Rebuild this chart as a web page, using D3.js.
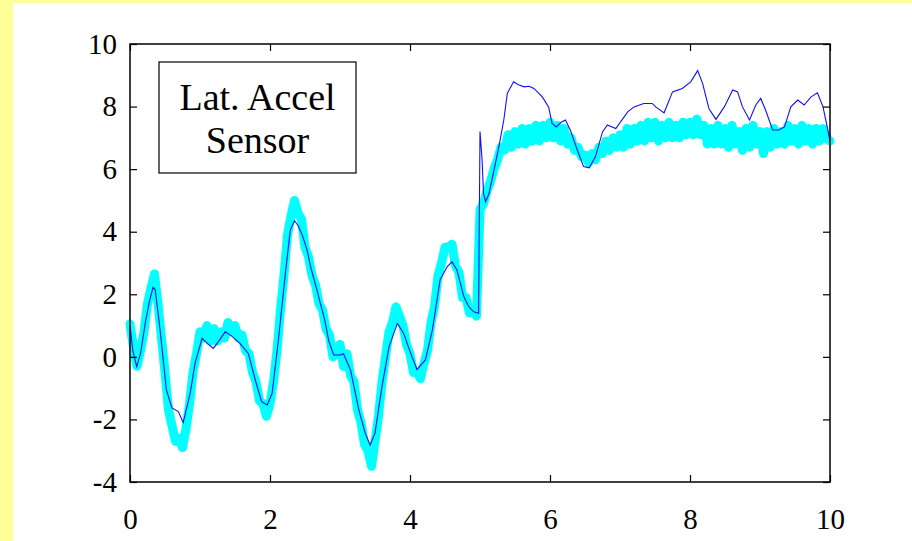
<!DOCTYPE html>
<html>
<head>
<meta charset="utf-8">
<script src="https://cdn.jsdelivr.net/npm/d3@7"></script>
<style>
  html, body { margin: 0; padding: 0; background: #ffff99; }
  #chart { position: absolute; left: 13px; top: 3px; width: 899px; height: 538px; background: #fff; }
</style>
</head>
<body>
<div id="chart"></div>
<script>
// sample step for the thick sensor trace (s)
const cyanStep = 0.05;
const cyanValues = [
  1.05, 0.3, -0.3, 0.2, 0.8, 1.7, 2.2, 2.65, 1.7, 0.6,
  -0.5, -1.7, -2.2, -2.7, -2.6, -2.9, -2.3, -1.5, -0.5, 0.1,
  0.8, 0.6, 1.0, 0.5, 0.9, 0.5, 0.8, 0.6, 1.1, 0.8,
  1.0, 0.6, 0.7, 0.2, 0.1, -0.5, -0.8, -1.4, -1.5, -1.9,
  -1.5, -0.8, 0.2, 1.5, 2.6, 3.9, 4.5, 5.0, 4.6, 4.4,
  3.5, 3.2, 2.6, 2.3, 1.7, 1.5, 0.9, 0.7, 0.0, 0.1,
  0.4, -0.3, 0.1, -0.6, -0.8, -1.7, -2.1, -2.8, -3.0, -3.5,
  -2.7, -1.9, -0.8, 0.0, 0.8, 1.1, 1.6, 1.3, 1.0, 0.4,
  0.1, -0.5, -0.5, -0.7, -0.2, 0.2, 1.1, 1.6, 2.6, 3.0,
  3.5, 3.5, 3.6, 2.9, 2.7, 1.9, 1.9, 1.4, 1.5, 1.3,
  4.7, 4.9, 5.3, 5.6, 6.0, 6.3, 6.7, 6.6, 7.1, 6.7,
  7.2, 6.8, 7.3, 6.8, 7.3, 6.9, 7.4, 6.9, 7.4, 7.0,
  7.5, 7.0, 7.4, 6.9, 7.3, 6.8, 7.0, 6.6, 6.7, 6.4,
  6.45, 6.2, 6.5, 6.3, 6.7, 6.5, 6.9, 6.6, 7.0, 6.7,
  7.1, 6.7, 7.3, 6.8, 7.3, 6.9, 7.4, 6.9, 7.5, 7.0,
  7.5, 6.9, 7.4, 7.0, 7.5, 7.0, 7.4, 7.0, 7.5, 7.1,
  7.5, 7.1, 7.6, 7.1, 7.4, 6.8, 7.3, 6.8, 7.4, 6.8,
  7.3, 6.7, 7.4, 6.8, 7.2, 6.6, 7.3, 6.7, 7.4, 6.8,
  7.2, 6.5, 7.2, 6.7, 7.3, 6.8, 7.2, 6.8, 7.4, 6.9,
  7.3, 6.8, 7.4, 6.9, 7.3, 6.8, 7.3, 6.9, 7.3, 7.0,
  6.9
];

// thin trace, read at irregular times
const blueTimes = [
  0, 0.04, 0.096, 0.15, 0.22, 0.28, 0.33, 0.36, 0.43, 0.52,
  0.60, 0.69, 0.76, 0.86, 0.93, 1.03, 1.10, 1.19, 1.26, 1.36,
  1.45, 1.57, 1.69, 1.79, 1.88, 1.96, 2.03, 2.12, 2.22, 2.29,
  2.35, 2.40, 2.46, 2.53, 2.58, 2.67, 2.72, 2.78, 2.84, 2.91,
  3.00, 3.05, 3.15, 3.27, 3.36, 3.43, 3.50, 3.60, 3.70, 3.82,
  3.91, 4.01, 4.10, 4.22, 4.32, 4.43, 4.53, 4.60, 4.67, 4.77,
  4.84, 4.91, 4.98, 5.00, 5.03, 5.05, 5.08, 5.13, 5.20, 5.27,
  5.34, 5.39, 5.48, 5.55, 5.63, 5.70, 5.77, 5.89, 5.98, 6.03,
  6.09, 6.16, 6.22, 6.29, 6.39, 6.48, 6.56, 6.65, 6.75, 6.82,
  6.94, 7.11, 7.20, 7.34, 7.46, 7.51, 7.63, 7.75, 7.89, 8.01,
  8.11, 8.18, 8.27, 8.37, 8.49, 8.61, 8.68, 8.75, 8.85, 8.94,
  9.01, 9.08, 9.18, 9.27, 9.35, 9.44, 9.54, 9.63, 9.73, 9.82,
  9.90, 9.97, 10.0
];
const blueValues = [
  1.0, 0.2, -0.31, 0.1, 1.1, 1.8, 2.22, 2.15, 0.86, -1.06,
  -1.63, -1.75, -2.10, -1.16, -0.2, 0.59, 0.44, 0.27, 0.48, 0.80,
  0.67, 0.43, 0.11, -0.74, -1.43, -1.54, -1.17, 0.54, 2.67, 4.05,
  4.35, 4.2, 3.9, 3.41, 2.88, 2.14, 1.71, 1.2, 0.5, 0.06,
  0.06, 0.1, -0.42, -1.70, -2.44, -2.82, -2.44, -0.95, 0.32, 1.07,
  0.75, 0.11, -0.40, -0.10, 0.86, 2.46, 2.88, 3.04, 2.78, 1.92,
  1.60, 1.44, 1.39, 7.2, 6.29, 5.23, 4.96, 5.23, 5.97, 6.72,
  7.57, 8.42, 8.79, 8.7, 8.63, 8.65, 8.58, 8.31, 7.99, 7.46,
  7.35, 7.5, 7.57, 7.25, 6.61, 6.08, 6.04, 6.40, 7.19, 7.41,
  7.30, 7.83, 7.99, 8.10, 8.10, 7.99, 7.80, 8.47, 8.58, 8.79,
  9.15, 8.74, 7.94, 7.59, 7.99, 8.53, 8.47, 7.99, 7.57, 8.05,
  8.26, 7.89, 7.25, 7.25, 7.35, 7.99, 8.21, 8.05, 8.31, 8.44,
  7.99, 7.25, 6.88
];

const xTicks = [0, 2, 4, 6, 8, 10];
const yTicks = [-4, -2, 0, 2, 4, 6, 8, 10];
const boxLines = ["Lat. Accel", "Sensor"];

const W = 899, H = 538;
// plot frame in page coords minus the chart offset (13, 3)
const margin = {top: 41, right: 82, bottom: 59, left: 117};
const width = W - margin.left - margin.right,
      height = H - margin.top - margin.bottom;

const svg = d3.select("#chart")
              .append("svg")
              .attr("width", W)
              .attr("height", H)
              .append("g")
              .attr("transform", `translate(${margin.left},${margin.top})`);

const x = d3.scaleLinear().domain([0, 10]).range([0, width]);
const y = d3.scaleLinear().domain([-4, 10]).range([height, 0]);

const cyanData = cyanValues.map((v, i) => ({t: i * cyanStep, v}));
const blueData = blueTimes.map((t, i) => ({t, v: blueValues[i]}));

const line = d3.line().x(d => x(d.t)).y(d => y(d.v));

svg.append("path")
   .datum(cyanData)
   .attr("d", line)
   .attr("fill", "none")
   .attr("stroke", "#00ffff")
   .attr("stroke-width", 9)
   .attr("stroke-linejoin", "round")
   .attr("stroke-linecap", "round");

svg.append("path")
   .datum(blueData)
   .attr("d", line)
   .attr("fill", "none")
   .attr("stroke", "#1010ff")
   .attr("stroke-width", 1.1);

// axes: inward ticks on all four sides, labels on left and bottom
const tick = 7;
const font = "'Liberation Serif', 'Times New Roman', serif";
const fmt = d => String(d);   // plain hyphen for negatives, like the original

svg.append("g")
   .attr("transform", `translate(0,${height})`)
   .call(d3.axisBottom(x).tickValues(xTicks).tickFormat(fmt).tickSize(-tick).tickPadding(26).tickSizeOuter(0))
   .call(g => g.select(".domain").remove());
svg.append("g")
   .call(d3.axisTop(x).tickValues(xTicks).tickSize(-tick).tickFormat("").tickSizeOuter(0))
   .call(g => g.select(".domain").remove());
svg.append("g")
   .call(d3.axisLeft(y).tickValues(yTicks).tickFormat(fmt).tickSize(-tick).tickPadding(13).tickSizeOuter(0))
   .call(g => g.select(".domain").remove());
svg.append("g")
   .attr("transform", `translate(${width},0)`)
   .call(d3.axisRight(y).tickValues(yTicks).tickSize(-tick).tickFormat("").tickSizeOuter(0))
   .call(g => g.select(".domain").remove());

svg.selectAll(".tick line").attr("stroke", "#000").attr("stroke-width", 1.2);
svg.selectAll(".tick text")
   .attr("fill", "#000")
   .style("font-family", font)
   .style("font-size", "29px");

svg.append("rect")
   .attr("width", width)
   .attr("height", height)
   .attr("fill", "none")
   .attr("stroke", "#000")
   .attr("stroke-width", 1.5);

// annotation box
const box = svg.append("g").attr("transform", `translate(${159 - 130},${62 - 44})`);
box.append("rect")
   .attr("width", 197)
   .attr("height", 111)
   .attr("fill", "#fff")
   .attr("stroke", "#000")
   .attr("stroke-width", 1.2);
box.selectAll("text")
   .data(boxLines)
   .enter()
   .append("text")
   .attr("x", 98.5)
   .attr("y", (d, i) => 48 + i * 43)
   .attr("text-anchor", "middle")
   .style("font-family", font)
   .style("font-size", "38px")
   .text(d => d);
</script>
</body>
</html>
